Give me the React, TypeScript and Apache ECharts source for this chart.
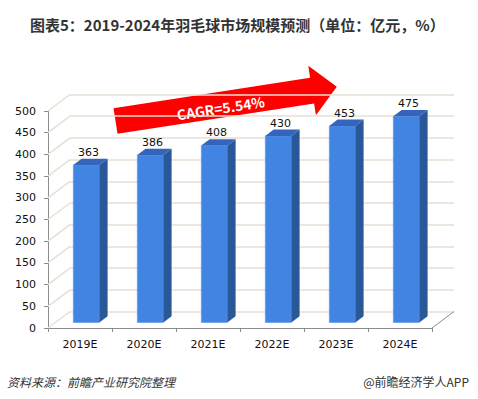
import React, { useEffect, useRef } from "react";
import * as echarts from "echarts";

const titleText = "图表5：2019-2024年羽毛球市场规模预测（单位：亿元，%）";
const sourceText = "资料来源：前瞻产业研究院整理";
const brandText = "@前瞻经济学人APP";
const cagrText = "CAGR=5.54%";

const categories = ["2019E", "2020E", "2021E", "2022E", "2023E", "2024E"];
const marketSize = [363, 386, 408, 430, 453, 475];
const yMin = 0;
const yMax = 500;
const yInterval = 50;
const wallTicks = [0, 50, 100, 150, 200, 250, 300, 350, 400, 450, 500];

const DEPTH_X = 22;
const DEPTH_Y = -16.5;
const GRID_COLOR = "#E4E1D4";
const AXIS_COLOR = "#8C8C8C";
const LABEL_FONT = '"DejaVu Sans", Verdana, sans-serif';
const CJK_FONT = '"Noto Sans CJK SC", "Noto Sans", sans-serif';

export default function App() {
  const ref = useRef<HTMLDivElement>(null);

  useEffect(() => {
    if (!ref.current) return;
    const chart = echarts.init(ref.current, null, { renderer: "svg" });

    const option: any = {
      animation: false,
      backgroundColor: "#ffffff",
      grid: [
        { left: 48, right: 46, top: 111, bottom: 71 },
        { left: 48 + DEPTH_X, right: 46 - DEPTH_X, top: 111 + DEPTH_Y, bottom: 71 - DEPTH_Y },
      ],
      xAxis: [
        {
          type: "category",
          gridIndex: 0,
          data: categories,
          boundaryGap: true,
          axisLine: { show: true, lineStyle: { color: AXIS_COLOR, width: 1 } },
          axisTick: { show: true, length: 4, lineStyle: { color: AXIS_COLOR } },
          axisLabel: { color: "#111", fontSize: 11, fontFamily: LABEL_FONT, margin: 11 },
          splitLine: { show: false },
        },
        {
          type: "category",
          gridIndex: 1,
          data: categories,
          show: false,
        },
      ],
      yAxis: [
        {
          type: "value",
          gridIndex: 0,
          min: yMin,
          max: yMax,
          interval: yInterval,
          axisLine: { show: true, lineStyle: { color: AXIS_COLOR, width: 1 } },
          axisTick: { show: true, length: 4, lineStyle: { color: AXIS_COLOR } },
          axisLabel: { color: "#111", fontSize: 11, fontFamily: LABEL_FONT, margin: 12 },
          splitLine: { show: false },
        },
        {
          type: "value",
          gridIndex: 1,
          min: yMin,
          max: yMax,
          interval: yInterval,
          axisLine: { show: false },
          axisTick: { show: false },
          axisLabel: { show: false },
          splitLine: { show: true, lineStyle: { color: GRID_COLOR, width: 1.5 } },
        },
      ],
      series: [
        {
          type: "custom",
          name: "leftWall",
          xAxisIndex: 0,
          yAxisIndex: 0,
          clip: false,
          silent: true,
          data: wallTicks.map((v) => [0, v]),
          renderItem: (params: any, api: any) => {
            const pt = api.coord([0, api.value(1)]);
            const cs = params.coordSys;
            return {
              type: "line",
              shape: { x1: cs.x, y1: pt[1], x2: cs.x + DEPTH_X, y2: pt[1] + DEPTH_Y },
              style: { stroke: GRID_COLOR, lineWidth: 1.5 },
            };
          },
        },
        {
          type: "custom",
          name: "floorEdge",
          xAxisIndex: 0,
          yAxisIndex: 0,
          clip: false,
          silent: true,
          data: [[0, 0]],
          renderItem: (params: any, api: any) => {
            const cs = params.coordSys;
            const y0 = api.coord([0, 0])[1];
            const xr = cs.x + cs.width;
            return {
              type: "line",
              shape: { x1: xr, y1: y0, x2: xr + DEPTH_X, y2: y0 + DEPTH_Y },
              style: { stroke: AXIS_COLOR, lineWidth: 1 },
            };
          },
        },
        {
          type: "custom",
          name: "市场规模",
          xAxisIndex: 0,
          yAxisIndex: 0,
          clip: false,
          data: marketSize.map((v, i) => [i, v]),
          renderItem: (params: any, api: any) => {
            const idx = api.value(0);
            const v = api.value(1);
            const base = api.coord([idx, 0]);
            const top = api.coord([idx, v]);
            const cx = base[0] + 6.3;
            const yb = base[1] - 5.5;
            const yt = top[1] - 5.5;
            const hw = 13;
            const dx = 8.3;
            const dy = -6.3;
            return {
              type: "group",
              children: [
                {
                  type: "rect",
                  shape: { x: cx - hw, y: yt, width: hw * 2, height: yb - yt },
                  style: { fill: "#4184E2", stroke: "#5C97EA", lineWidth: 0.6 },
                },
                {
                  type: "polygon",
                  shape: {
                    points: [
                      [cx + hw, yt],
                      [cx + hw + dx, yt + dy],
                      [cx + hw + dx, yb + dy],
                      [cx + hw, yb],
                    ],
                  },
                  style: { fill: "#2A5797" },
                },
                {
                  type: "polygon",
                  shape: {
                    points: [
                      [cx - hw, yt],
                      [cx - hw + dx, yt + dy],
                      [cx + hw + dx, yt + dy],
                      [cx + hw, yt],
                    ],
                  },
                  style: { fill: "#3465BA" },
                },
                {
                  type: "text",
                  x: cx + dx / 2 - 2,
                  y: yt + dy - 1,
                  style: {
                    text: String(v),
                    fill: "#111",
                    font: `11px ${LABEL_FONT}`,
                    textAlign: "center",
                    textVerticalAlign: "bottom",
                    align: "center",
                    verticalAlign: "bottom",
                  },
                },
              ],
            };
          },
        },
      ],
      graphic: [
        {
          type: "text",
          x: 30,
          y: 24,
          style: {
            text: titleText,
            fill: "#333",
            font: `bold 15px ${CJK_FONT}`,
            textVerticalAlign: "middle",
            verticalAlign: "middle",
          },
        },
        {
          type: "group",
          x: 115.5,
          y: 121,
          rotation: (8.8 * Math.PI) / 180,
          z: 100,
          children: [
            {
              type: "polygon",
              shape: {
                points: [
                  [0, -13],
                  [199, -13],
                  [199, -25],
                  [224, 0],
                  [199, 25],
                  [199, 13],
                  [0, 13],
                ],
              },
              style: { fill: "#FF0000" },
            },
            {
              type: "text",
              x: 106,
              y: 3,
              style: {
                text: cagrText,
                fill: "#ffffff",
                font: `bold 14px ${CJK_FONT}`,
                textAlign: "center",
                textVerticalAlign: "middle",
                align: "center",
                verticalAlign: "middle",
              },
            },
          ],
        },
        {
          type: "text",
          x: 7,
          y: 381,
          style: {
            text: sourceText,
            fill: "#333",
            font: `italic 12px ${CJK_FONT}`,
            textVerticalAlign: "middle",
            verticalAlign: "middle",
          },
        },
        {
          type: "text",
          x: 469,
          y: 381,
          style: {
            text: brandText,
            fill: "#333",
            font: `12px ${CJK_FONT}`,
            textAlign: "right",
            align: "right",
            textVerticalAlign: "middle",
            verticalAlign: "middle",
          },
        },
      ],
    };

    chart.setOption(option);
    return () => chart.dispose();
  }, []);

  return (
    <div
      ref={ref}
      style={{ position: "fixed", left: 0, top: 0, width: 478, height: 399 }}
    />
  );
}
